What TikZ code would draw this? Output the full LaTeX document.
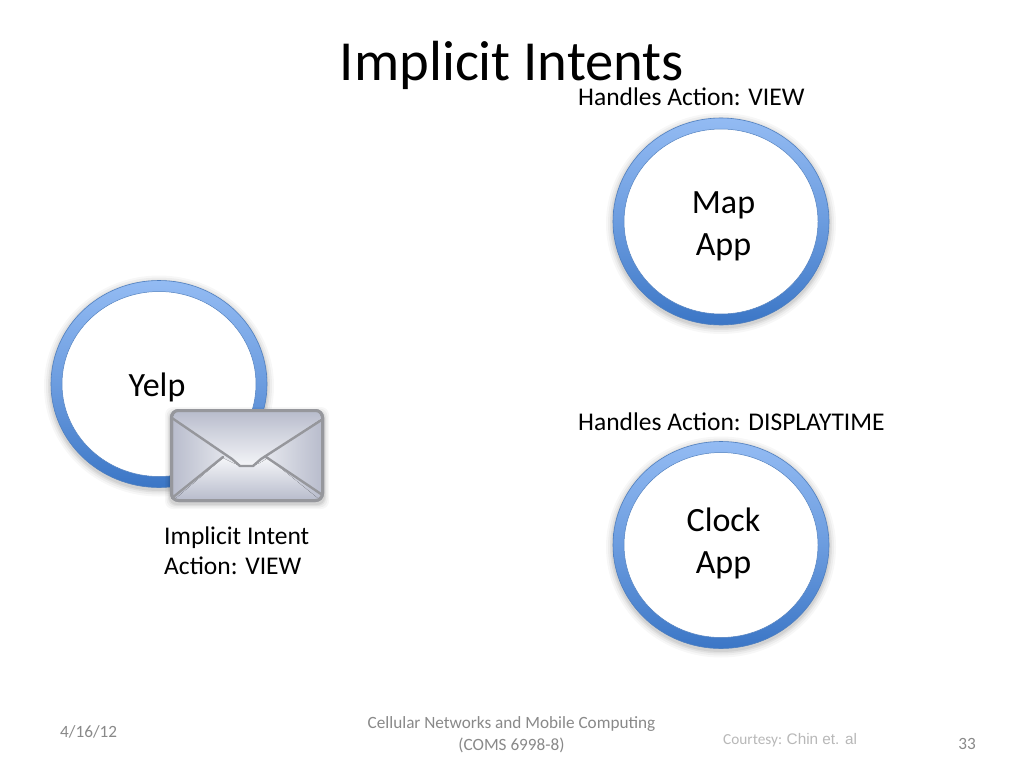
\documentclass[tikz,border=0pt]{standalone}
\usepackage{fontspec}
\setmainfont{Carlito}
\newfontfamily\libsans{Liberation Sans}
\definecolor{ringtop}{HTML}{93BBF3}
\definecolor{ringbot}{HTML}{3B76C6}
\definecolor{ringedge}{HTML}{4F7FBF}
\definecolor{envline}{HTML}{96979C}
\definecolor{envdark}{HTML}{B8BCCC}
\definecolor{envlight}{HTML}{F4F5F8}
\definecolor{foot}{HTML}{898989}
\tikzset{
  x=1pt,y=-1pt,
  lbl/.style={inner sep=0pt,font=\fontsize{25.5}{30}\selectfont,text=black,align=left},
  applbl/.style={inner sep=0pt,font=\fontsize{34}{42}\selectfont,text=black,align=center},
  footer/.style={inner sep=0pt,font=\fontsize{17.2}{22}\selectfont,text=foot,align=center},
  envstroke/.style={draw=envline,line width=2.4pt,line join=round,line cap=round},
}
\newcommand{\appring}[3]{%
  \foreach \g/\o in {7/0.03,5/0.04,3/0.05,1.5/0.06}{
    \fill[black,opacity=\o] (#1,#2+2) ellipse [x radius=108+\g,y radius=103.5+\g];
  }
  \node[ellipse,minimum width=216pt,minimum height=207pt,inner sep=0pt,outer sep=0pt,draw=ringedge,line width=0.6pt,
        top color=ringtop,bottom color=ringbot,middle color=ringtop!55!ringbot,anchor=center] (#3) at (#1,#2) {};
  \node[ellipse,minimum width=194pt,minimum height=185pt,inner sep=0pt,outer sep=0pt,draw=ringedge,line width=0.5pt,fill=white,anchor=center] (#3in) at (#1,#2) {};
}
\usetikzlibrary{shapes.geometric}
\begin{document}
\begin{tikzpicture}
\useasboundingbox (0,0) rectangle (1024,768);
\fill[white] (0,0) rectangle (1024,768);

\node[inner sep=0pt,font=\fontsize{56.6}{60}\selectfont] (title) at (512,65) {Implicit Intents};

\node[lbl,anchor=west] (hview) at (578,97) {Handles Action: VIEW};
\appring{721}{221.5}{maproot}
\node[applbl] (maplbl) at (723.5,226.5) {Map\\App};

\node[lbl,anchor=west] (htime) at (578,422) {Handles Action: DISPLAYTIME};
\appring{721}{545}{clockroot}
\node[applbl] (clocklbl) at (723.5,543) {Clock\\App};

\appring{159}{384}{yelproot}
\node[applbl] (yelplbl) at (157,387) {Yelp};

% envelope
\foreach \g/\o in {5/0.03,3.5/0.04,2/0.05,1/0.06}{
  \fill[black,opacity=\o,rounded corners=8pt] (170-\g,409-\g+3) rectangle (324+\g,502+\g+2);
}
\node[rectangle,rounded corners=7pt,minimum width=151pt,minimum height=90pt,inner sep=0pt,outer sep=0pt,
      left color=envdark,right color=envdark,middle color=envlight,anchor=center,
      draw=envline,line width=3pt] (env) at (247,455.5) {};
\fill[top color=envlight,bottom color=envdark] (174,500) -- (223,458) -- (233,463) -- (240,466) -- (253,466) -- (260,463) -- (268,458) -- (320,500) -- cycle;
\fill[top color=envdark,bottom color=envlight] (173,418) [rounded corners=6pt] -- (173,411) -- (321,411) [sharp corners] -- (321,419) -- (261,459) -- (253,466) -- (240,466) -- (232,459) -- cycle;
\coordinate (fl1) at (172,418);
\coordinate (fl2) at (232,459);
\coordinate (fl3) at (240,466);
\coordinate (fl4) at (253,466);
\coordinate (fl5) at (261,459);
\coordinate (fl6) at (323,419);
\coordinate (bl1) at (172,498);
\coordinate (bl2) at (223,457);
\coordinate (br1) at (321,494);
\coordinate (br2) at (266,457);
\draw[envstroke] (fl1) -- (fl2) -- (fl3) -- (fl4) -- (fl5) -- (fl6);
\draw[envstroke] (bl1) -- (bl2);
\draw[envstroke] (br1) -- (br2);
\draw[draw=envline,line width=3pt,rounded corners=7pt] (env.north west) rectangle (env.south east);

\node[lbl,anchor=north west] (intent) at (164,527) {Implicit Intent\\Action: VIEW};

\node[footer,anchor=west] (date) at (60,732) {4/16/12};
\node[footer] (course) at (511.5,734.5) {Cellular Networks and Mobile Computing\\(COMS 6998-8)};
\node[inner sep=0pt,anchor=west,text=foot!60!white,font=\fontsize{15.3}{18}\selectfont] (court) at (723,740) {Courtesy: {\libsans Chin et. al}};
\node[footer,anchor=east] (page) at (976,744) {33};
\end{tikzpicture}
\end{document}
